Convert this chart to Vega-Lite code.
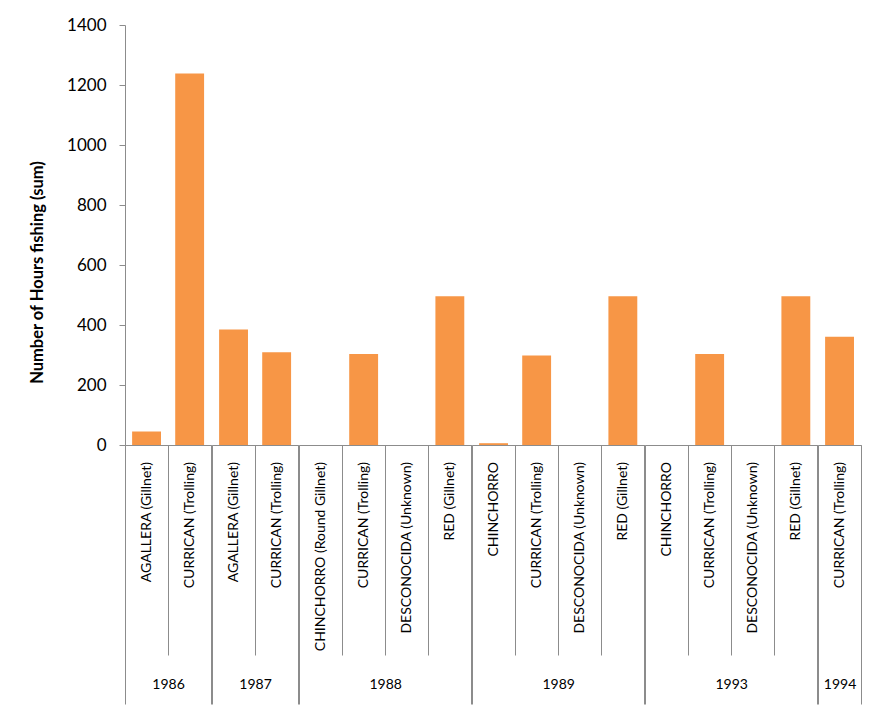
{
  "$schema": "https://vega.github.io/schema/vega-lite/v6.json",
  "padding": {"left": 29, "top": 16, "right": 5, "bottom": 3},
  "background": "white",
  "data": {
    "values": [
      {"year": "1986", "gear": "AGALLERA (Gillnet)", "hours": 45},
      {"year": "1986", "gear": "CURRICAN (Trolling)", "hours": 1238},
      {"year": "1987", "gear": "AGALLERA (Gillnet)", "hours": 385},
      {"year": "1987", "gear": "CURRICAN (Trolling)", "hours": 309},
      {"year": "1988", "gear": "CHINCHORRO (Round Gillnet)", "hours": 0},
      {"year": "1988", "gear": "CURRICAN (Trolling)", "hours": 303},
      {"year": "1988", "gear": "DESCONOCIDA (Unknown)", "hours": 0},
      {"year": "1988", "gear": "RED (Gillnet)", "hours": 496},
      {"year": "1989", "gear": "CHINCHORRO", "hours": 6},
      {"year": "1989", "gear": "CURRICAN (Trolling)", "hours": 298},
      {"year": "1989", "gear": "DESCONOCIDA (Unknown)", "hours": 0},
      {"year": "1989", "gear": "RED (Gillnet)", "hours": 496},
      {"year": "1993", "gear": "CHINCHORRO", "hours": 0},
      {"year": "1993", "gear": "CURRICAN (Trolling)", "hours": 303},
      {"year": "1993", "gear": "DESCONOCIDA (Unknown)", "hours": 0},
      {"year": "1993", "gear": "RED (Gillnet)", "hours": 496},
      {"year": "1994", "gear": "CURRICAN (Trolling)", "hours": 361}
    ]
  },
  "bounds": "flush",
  "spacing": 0,
  "hconcat": [
    {
      "width": 86.2, "height": 420,
      "transform": [{"filter": "datum.year == '1986'"}],
      "layer": [
        {"mark": {"type": "bar", "color": "#F79646", "width": {"band": 0.67}},
         "encoding": {
           "x": {"field": "gear", "type": "nominal", "sort": null, "scale": {"paddingInner": 0, "paddingOuter": 0}, "axis": {"title": null}},
           "y": {"field": "hours", "type": "quantitative", "scale": {"domain": [0, 1400], "nice": false},
                 "axis": {"title": "Number of Hours fishing (sum)", "values": [0, 200, 400, 600, 800, 1000, 1200, 1400], "format": "d",
                          "titleX": -88, "titleY": 247, "titleAngle": -90, "titleAlign": "center", "titleBaseline": "middle"}}
         }},
        {"mark": {"type": "rule", "opacity": 0},
         "encoding": {"x": {"field": "year", "type": "nominal", "scale": {"paddingInner": 0, "paddingOuter": 0},
                            "axis": {"title": null, "orient": "bottom", "domain": false, "tickSize": 259, "labelPadding": -20, "labelAngle": 0, "labelBaseline": "middle", "labelAlign": "center"}}}}
      ],
      "resolve": {"scale": {"x": "independent"}, "axis": {"x": "independent"}}
    },
    {
      "width": 86.2, "height": 420,
      "transform": [{"filter": "datum.year == '1987'"}],
      "layer": [
        {"mark": {"type": "bar", "color": "#F79646", "width": {"band": 0.67}},
         "encoding": {
           "x": {"field": "gear", "type": "nominal", "sort": null, "scale": {"paddingInner": 0, "paddingOuter": 0}, "axis": {"title": null}},
           "y": {"field": "hours", "type": "quantitative", "scale": {"domain": [0, 1400], "nice": false}, "axis": null}
         }},
        {"mark": {"type": "rule", "opacity": 0},
         "encoding": {"x": {"field": "year", "type": "nominal", "scale": {"paddingInner": 0, "paddingOuter": 0},
                            "axis": {"title": null, "orient": "bottom", "domain": false, "tickSize": 259, "labelPadding": -20, "labelAngle": 0, "labelBaseline": "middle", "labelAlign": "center"}}}}
      ],
      "resolve": {"scale": {"x": "independent"}, "axis": {"x": "independent"}}
    },
    {
      "width": 172.4, "height": 420,
      "transform": [{"filter": "datum.year == '1988'"}],
      "layer": [
        {"mark": {"type": "bar", "color": "#F79646", "width": {"band": 0.67}},
         "encoding": {
           "x": {"field": "gear", "type": "nominal", "sort": null, "scale": {"paddingInner": 0, "paddingOuter": 0}, "axis": {"title": null}},
           "y": {"field": "hours", "type": "quantitative", "scale": {"domain": [0, 1400], "nice": false}, "axis": null}
         }},
        {"mark": {"type": "rule", "opacity": 0},
         "encoding": {"x": {"field": "year", "type": "nominal", "scale": {"paddingInner": 0, "paddingOuter": 0},
                            "axis": {"title": null, "orient": "bottom", "domain": false, "tickSize": 259, "labelPadding": -20, "labelAngle": 0, "labelBaseline": "middle", "labelAlign": "center"}}}}
      ],
      "resolve": {"scale": {"x": "independent"}, "axis": {"x": "independent"}}
    },
    {
      "width": 172.4, "height": 420,
      "transform": [{"filter": "datum.year == '1989'"}],
      "layer": [
        {"mark": {"type": "bar", "color": "#F79646", "width": {"band": 0.67}},
         "encoding": {
           "x": {"field": "gear", "type": "nominal", "sort": null, "scale": {"paddingInner": 0, "paddingOuter": 0}, "axis": {"title": null}},
           "y": {"field": "hours", "type": "quantitative", "scale": {"domain": [0, 1400], "nice": false}, "axis": null}
         }},
        {"mark": {"type": "rule", "opacity": 0},
         "encoding": {"x": {"field": "year", "type": "nominal", "scale": {"paddingInner": 0, "paddingOuter": 0},
                            "axis": {"title": null, "orient": "bottom", "domain": false, "tickSize": 259, "labelPadding": -20, "labelAngle": 0, "labelBaseline": "middle", "labelAlign": "center"}}}}
      ],
      "resolve": {"scale": {"x": "independent"}, "axis": {"x": "independent"}}
    },
    {
      "width": 172.4, "height": 420,
      "transform": [{"filter": "datum.year == '1993'"}],
      "layer": [
        {"mark": {"type": "bar", "color": "#F79646", "width": {"band": 0.67}},
         "encoding": {
           "x": {"field": "gear", "type": "nominal", "sort": null, "scale": {"paddingInner": 0, "paddingOuter": 0}, "axis": {"title": null}},
           "y": {"field": "hours", "type": "quantitative", "scale": {"domain": [0, 1400], "nice": false}, "axis": null}
         }},
        {"mark": {"type": "rule", "opacity": 0},
         "encoding": {"x": {"field": "year", "type": "nominal", "scale": {"paddingInner": 0, "paddingOuter": 0},
                            "axis": {"title": null, "orient": "bottom", "domain": false, "tickSize": 259, "labelPadding": -20, "labelAngle": 0, "labelBaseline": "middle", "labelAlign": "center"}}}}
      ],
      "resolve": {"scale": {"x": "independent"}, "axis": {"x": "independent"}}
    },
    {
      "width": 43.1, "height": 420,
      "transform": [{"filter": "datum.year == '1994'"}],
      "layer": [
        {"mark": {"type": "bar", "color": "#F79646", "width": {"band": 0.67}},
         "encoding": {
           "x": {"field": "gear", "type": "nominal", "sort": null, "scale": {"paddingInner": 0, "paddingOuter": 0}, "axis": {"title": null}},
           "y": {"field": "hours", "type": "quantitative", "scale": {"domain": [0, 1400], "nice": false}, "axis": null}
         }},
        {"mark": {"type": "rule", "opacity": 0},
         "encoding": {"x": {"field": "year", "type": "nominal", "scale": {"paddingInner": 0, "paddingOuter": 0},
                            "axis": {"title": null, "orient": "bottom", "domain": false, "tickSize": 259, "labelPadding": -20, "labelAngle": 0, "labelBaseline": "middle", "labelAlign": "center"}}}}
      ],
      "resolve": {"scale": {"x": "independent"}, "axis": {"x": "independent"}}
    }
  ],
  "config": {
    "view": {"stroke": null},
    "font": "Lato",
    "axisX": {
      "labelAngle": -90,
      "labelFont": "Lato",
      "labelFontSize": 14,
      "labelColor": "#000000",
      "labelLimit": 400,
      "labelOverlap": false,
      "labelFlush": false,
      "tickBand": "extent",
      "tickSize": 210,
      "labelPadding": -193.5,
      "tickColor": "#8c8c8c",
      "domainColor": "#8c8c8c",
      "grid": false
    },
    "axisY": {
      "tickSize": 6,
      "labelPadding": 13,
      "labelFont": "Lato",
      "labelFontSize": 17,
      "labelColor": "#000000",
      "tickColor": "#8c8c8c",
      "domainColor": "#8c8c8c",
      "grid": false,
      "titleFont": "Lato",
      "titleFontSize": 16.5,
      "titleFontWeight": "bold",
      "titleColor": "#000000"
    }
  }
}
